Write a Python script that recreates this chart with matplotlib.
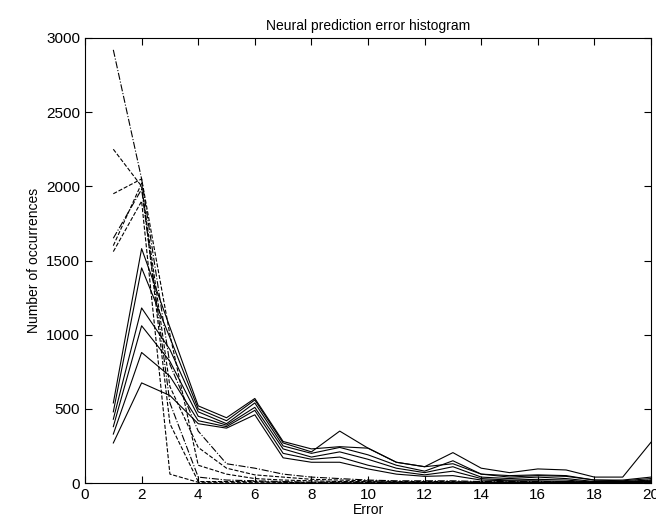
import numpy as np
import matplotlib.pyplot as plt

# error bins
err = np.arange(1, 21)

# solid curves
s1 = [540, 1580, 1050, 520, 440, 570, 280, 230, 245, 235, 140, 110, 130, 60, 50, 55, 50, 20, 20, 40]
s2 = [480, 1450, 980, 500, 420, 560, 270, 210, 350, 235, 140, 110, 205, 100, 70, 95, 88, 40, 40, 275]
s3 = [430, 1180, 900, 480, 400, 540, 250, 200, 240, 190, 120, 80, 150, 60, 40, 50, 45, 20, 15, 30]
s4 = [380, 1060, 820, 450, 390, 510, 230, 175, 210, 160, 100, 70, 110, 40, 30, 40, 30, 10, 10, 20]
s5 = [330, 880, 720, 420, 380, 490, 200, 160, 175, 120, 80, 55, 80, 30, 20, 25, 20, 5, 5, 15]
s6 = [270, 675, 590, 400, 370, 460, 170, 140, 140, 95, 60, 45, 50, 20, 15, 15, 10, 5, 5, 10]

# dashed curves
d1 = [2920, 2050, 800, 350, 130, 100, 60, 40, 30, 20, 15, 15, 15, 10, 10, 10, 10, 5, 5, 20]
d2 = [2250, 2000, 650, 240, 100, 55, 40, 25, 20, 15, 10, 10, 10, 5, 5, 5, 5, 5, 5, 10]
d3 = [1950, 2050, 1000, 120, 60, 30, 20, 15, 10, 10, 5, 5, 5, 5, 5, 5, 5, 0, 0, 5]
d4 = [1650, 1980, 540, 40, 20, 15, 10, 5, 5, 5, 5, 5, 5, 5, 5, 5, 5, 5, 5, 5]
d5 = [1600, 2020, 400, 10, 10, 10, 5, 5, 5, 5, 5, 5, 5, 5, 5, 5, 5, 5, 5, 5]
d6 = [1560, 1900, 60, 5, 5, 5, 5, 0, 0, 0, 0, 0, 0, 0, 0, 0, 0, 0, 0, 0]

plt.rcParams['font.family'] = ['Liberation Sans', 'DejaVu Sans']

fig = plt.figure(figsize=(6.56, 5.26), dpi=100)
ax = fig.add_axes([0.1296, 0.0817, 0.8628, 0.8461])

for s in [s1, s2, s3, s4, s5, s6]:
    ax.plot(err, s, color='black', linewidth=0.8)
for s, ls in zip([d1, d2, d3, d4, d5, d6], ['-.', '--', '--', '-.', '--', '--']):
    ax.plot(err, s, color='black', linewidth=0.8, linestyle=ls)

ax.set_xlim(0, 20)
ax.set_ylim(0, 3000)
ax.set_xticks(np.arange(0, 21, 2))
ax.set_yticks(np.arange(0, 3001, 500))
ax.tick_params(direction='in', top=True, right=True, length=5, labelsize=11)

ax.set_title('Neural prediction error histogram', fontsize=10)
ax.set_xlabel('Error', fontsize=10, labelpad=1)
ax.set_ylabel('Number of occurrences', fontsize=10)

plt.savefig('out.png', dpi=100)
